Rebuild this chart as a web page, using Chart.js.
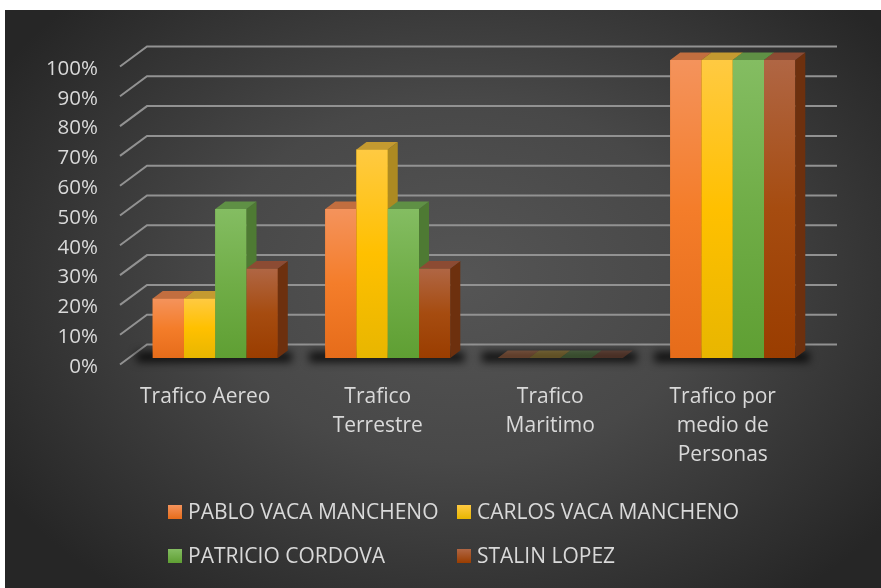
<!DOCTYPE html>
<html><head><meta charset="utf-8">
<script src="https://cdn.jsdelivr.net/npm/chart.js@4/dist/chart.umd.min.js"></script>
<style>html,body{margin:0;padding:0;background:#fff;}canvas{display:block;}</style>
</head><body>
<canvas id="c" width="881" height="588"></canvas>
<script>
// ---- data ----
const categories = [["Trafico Aereo"], ["Trafico", "Terrestre"], ["Trafico", "Maritimo"], ["Trafico por", "medio de", "Personas"]];
const seriesNames = ["PABLO VACA MANCHENO", "CARLOS VACA MANCHENO", "PATRICIO CORDOVA", "STALIN LOPEZ"];
const pabloValues = [20, 50, 0, 100];
const carlosValues = [20, 70, 0, 100];
const patricioValues = [50, 50, 0, 100];
const stalinValues = [30, 30, 0, 100];
const yTickLabels = ["0%", "10%", "20%", "30%", "40%", "50%", "60%", "70%", "80%", "90%", "100%"];

// ---- styles ----
const palette = [
  {light:'#f4935c', mid:'#f47d2a', dark:'#e66c1a', top:'#c26e3f', side:'#a8541a'},
  {light:'#ffca42', mid:'#ffc000', dark:'#e8b600', top:'#c49a30', side:'#ad8a22'},
  {light:'#84bd62', mid:'#70ad47', dark:'#5f9f33', top:'#5f9045', side:'#4e7a33'},
  {light:'#b06644', mid:'#a64c10', dark:'#9a3d00', top:'#8c4b33', side:'#6d300e'}
];
const TEXT = '#d9d9d9';
const FONT = "'Open Sans', sans-serif";
const DX = 10, DY = 7.5;           // bar depth
const WDX = 18, WDY = 13.5;        // back wall offset
const FDX = -9, FDY = 6.5;         // floor front offset

const bar3d = {
  id: 'bar3d',
  beforeDraw(chart) {
    const ctx = chart.ctx, W = chart.width, H = chart.height;
    ctx.save();
    ctx.fillStyle = '#ffffff';
    ctx.fillRect(0, 0, W, H);
    ctx.beginPath();
    ctx.rect(5, 10, W - 5, H - 10);
    ctx.clip();
    const cx = 460, cy = 280, rx = 540, ry = 400;
    ctx.translate(cx, cy);
    ctx.scale(1, ry / rx);
    const g = ctx.createRadialGradient(0, 0, 0, 0, 0, rx);
    g.addColorStop(0, '#555555');
    g.addColorStop(0.45, '#484848');
    g.addColorStop(1, '#262626');
    ctx.fillStyle = g;
    ctx.fillRect(-cx, -cy * rx / ry, W * 2, H * 2 * rx / ry);
    ctx.restore();
  },
  beforeDatasetsDraw(chart) {
    const ctx = chart.ctx, a = chart.chartArea, ys = chart.scales.y;
    ctx.save();
    ctx.strokeStyle = '#929292';
    ctx.lineWidth = 2;
    ys.ticks.forEach(t => {
      const yf = ys.getPixelForValue(t.value);
      ctx.beginPath();
      ctx.moveTo(a.left + FDX, yf + FDY);
      ctx.lineTo(a.left + WDX, yf - WDY);
      ctx.lineTo(a.right + WDX, yf - WDY);
      ctx.stroke();
    });
    ctx.restore();
  },
  afterDatasetsDraw(chart) {
    const ctx = chart.ctx;
    const n = chart.data.datasets.length;
    const first = chart.getDatasetMeta(0), last = chart.getDatasetMeta(n - 1);
    ctx.save();
    // floor shadows under each group
    ctx.filter = 'blur(4px)';
    ctx.fillStyle = 'rgba(0,0,0,0.8)';
    first.data.forEach((el, i) => {
      const l = el.x - el.width / 2;
      const r = last.data[i].x + last.data[i].width / 2;
      const b = el.base;
      ctx.fillRect(l - 16, b - 6, r - l + 30, 10);
    });
    ctx.filter = 'none';
    // bars, left to right in each group: front, side, top
    for (let d = 0; d < n; d++) {
      const meta = chart.getDatasetMeta(d);
      const p = palette[d];
      meta.data.forEach(el => {
        const l = el.x - el.width / 2, r = el.x + el.width / 2, t = el.y, b = el.base;
        const zero = Math.abs(b - t) < 0.5;
        if (!zero) {
          const g = ctx.createLinearGradient(0, t, 0, b);
          g.addColorStop(0, p.light); g.addColorStop(0.5, p.mid); g.addColorStop(1, p.dark);
          ctx.globalAlpha = 1;
          ctx.fillStyle = g;
          ctx.fillRect(l, t, r - l, b - t);
          ctx.fillStyle = p.side;
          ctx.beginPath();
          ctx.moveTo(r, t); ctx.lineTo(r + DX, t - DY); ctx.lineTo(r + DX, b - DY); ctx.lineTo(r, b);
          ctx.closePath(); ctx.fill();
        }
        ctx.globalAlpha = zero ? 0.4 : 1;
        ctx.fillStyle = p.top;
        ctx.beginPath();
        ctx.moveTo(l, t); ctx.lineTo(r, t); ctx.lineTo(r + DX, t - DY); ctx.lineTo(l + DX, t - DY);
        ctx.closePath(); ctx.fill();
      });
    }
    ctx.restore();
  },
  afterDraw(chart) {
    const ctx = chart.ctx, a = chart.chartArea;
    const cols = [a.left + 39, a.left + 328];
    const rows = [a.bottom + 154, a.bottom + 198];
    ctx.save();
    ctx.font = '21px ' + FONT;
    ctx.textBaseline = 'middle';
    ctx.textAlign = 'left';
    chart.data.datasets.forEach((ds, i) => {
      const x = cols[i % 2], y = rows[Math.floor(i / 2)];
      const p = palette[i];
      const g = ctx.createLinearGradient(0, y - 7, 0, y + 7);
      g.addColorStop(0, p.light); g.addColorStop(1, p.dark);
      ctx.fillStyle = g;
      ctx.fillRect(x, y - 7, 14, 14);
      ctx.fillStyle = TEXT;
      ctx.fillText(ds.label, x + 20, y + 1);
    });
    ctx.restore();
  }
};

const seriesValues = [pabloValues, carlosValues, patricioValues, stalinValues];
const datasets = seriesValues.map((vals, i) => ({
  label: seriesNames[i],
  data: vals,
  borderWidth: 0,
  backgroundColor: palette[i].mid
}));

Chart.defaults.font.family = FONT;
Chart.defaults.color = TEXT;

new Chart(document.getElementById('c'), {
  type: 'bar',
  data: { labels: categories, datasets },
  plugins: [bar3d],
  options: {
    responsive: false,
    animation: false,
    devicePixelRatio: 1,
    layout: { padding: { left: 0, right: 62, top: 60, bottom: 0 } },
    datasets: { bar: { barPercentage: 1, categoryPercentage: 0.725 } },
    plugins: { legend: { display: false }, tooltip: { enabled: false } },
    scales: {
      x: {
        grid: { display: false, drawTicks: false },
        border: { display: false },
        ticks: { color: TEXT, font: { size: 21, lineHeight: 1.4 }, padding: 24, labelOffset: -10, autoSkip: false, maxRotation: 0 },
        afterFit: (s) => { s.height = 230; }
      },
      y: {
        min: 0, max: 100,
        grid: { display: false, drawTicks: false },
        border: { display: false },
        ticks: { stepSize: 10, color: TEXT, font: { size: 20.5 }, padding: 31, labelOffset: 9,
                 callback: (v) => yTickLabels[Math.round(v / 10)] },
        afterFit: (s) => { s.width = 129; }
      }
    }
  }
});
</script>
</body></html>
